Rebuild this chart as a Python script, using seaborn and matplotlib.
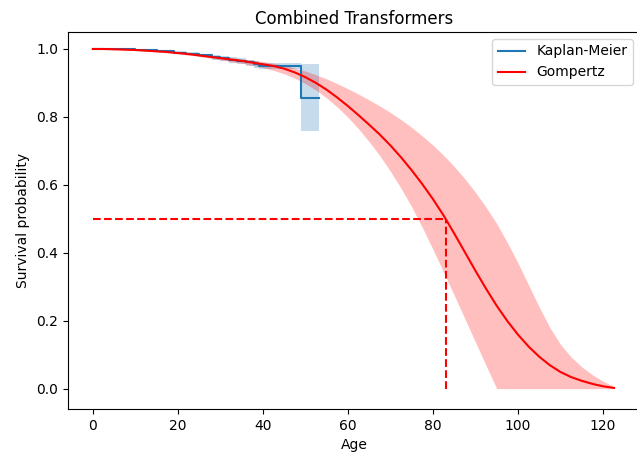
import matplotlib
matplotlib.use("Agg")
import matplotlib.pyplot as plt
import seaborn as sns
import pandas as pd

# Kaplan-Meier estimate (step function) and its confidence band
km_age = [0, 10, 15, 19, 22, 25, 28, 30, 32, 34, 36, 38, 39, 49, 53.1]
km_surv = [1.0, 0.997, 0.993, 0.989, 0.986, 0.981, 0.976, 0.973, 0.969, 0.965,
           0.961, 0.956, 0.950, 0.856, 0.856]
km_low = [1.0, 0.995, 0.990, 0.985, 0.981, 0.975, 0.969, 0.965, 0.960, 0.955,
          0.950, 0.945, 0.942, 0.759, 0.759]
km_high = [1.0, 0.999, 0.996, 0.993, 0.990, 0.986, 0.982, 0.979, 0.976, 0.972,
           0.969, 0.965, 0.958, 0.955, 0.955]

# Gompertz fit and its confidence band, read every 2.5 years
gomp_age = [0, 2.5, 5, 7.5, 10, 12.5, 15, 17.5, 20, 22.5, 25, 27.5, 30, 32.5, 35, 37.5,
            40, 42.5, 45, 47.5, 50, 52.5, 55, 57.5, 60, 62.5, 65, 67.5, 70, 72.5, 75, 77.5,
            80, 82.5, 85, 87.5, 90, 92.5, 95, 97.5, 100, 102.5, 105, 107.5, 110, 112.5,
            115, 117.5, 120, 122.6]
gomp_surv = [1.000, 1.000, 0.999, 0.998, 0.997, 0.995, 0.993, 0.991, 0.988, 0.985,
             0.981, 0.977, 0.973, 0.969, 0.965, 0.960, 0.955, 0.950, 0.942, 0.931,
             0.917, 0.900, 0.880, 0.857, 0.832, 0.805, 0.777, 0.748, 0.716, 0.681,
             0.643, 0.602, 0.558, 0.510, 0.457, 0.402, 0.347, 0.294, 0.244, 0.199,
             0.159, 0.124, 0.094, 0.069, 0.049, 0.034, 0.023, 0.014, 0.007, 0.002]
gomp_low = [1.000, 1.000, 0.999, 0.998, 0.996, 0.994, 0.992, 0.989, 0.986, 0.982,
            0.978, 0.973, 0.968, 0.963, 0.958, 0.952, 0.945, 0.937, 0.927, 0.914,
            0.898, 0.879, 0.856, 0.829, 0.799, 0.765, 0.727, 0.686, 0.640, 0.590,
            0.535, 0.475, 0.410, 0.343, 0.275, 0.206, 0.137, 0.068, 0.000, 0.000,
            0.000, 0.000, 0.000, 0.000, 0.000, 0.000, 0.000, 0.000, 0.000, 0.000]
gomp_high = [1.000, 1.000, 0.999, 0.999, 0.998, 0.996, 0.994, 0.992, 0.990, 0.987,
             0.984, 0.981, 0.978, 0.975, 0.971, 0.967, 0.963, 0.958, 0.952, 0.944,
             0.935, 0.924, 0.912, 0.898, 0.883, 0.867, 0.850, 0.832, 0.813, 0.792,
             0.769, 0.744, 0.717, 0.687, 0.654, 0.618, 0.578, 0.534, 0.486, 0.430,
             0.370, 0.305, 0.240, 0.180, 0.130, 0.093, 0.064, 0.041, 0.022, 0.006]

median_age = 83.0

km = pd.DataFrame({"Age": km_age, "Survival": km_surv})
gomp = pd.DataFrame({"Age": gomp_age, "Survival": gomp_surv})

fig = plt.figure(figsize=(6.37, 4.59), dpi=100)
ax = fig.add_axes([0.1063, 0.1089, 0.8984, 0.8214])

ax.fill_between(km_age, km_low, km_high, step="post", color="#1f77b4", alpha=0.25, lw=0)
sns.lineplot(data=km, x="Age", y="Survival", ax=ax, color="#1f77b4",
             drawstyle="steps-post", label="Kaplan-Meier", lw=1.5)

ax.fill_between(gomp_age, gomp_low, gomp_high, color="red", alpha=0.25, lw=0)
sns.lineplot(data=gomp, x="Age", y="Survival", ax=ax, color="red",
             label="Gompertz", lw=1.5)

ax.plot([0, median_age], [0.5, 0.5], color="red", ls="--", lw=1.5)
ax.plot([median_age, median_age], [0, 0.5], color="red", ls="--", lw=1.5)

ax.set_xlim(-5.9, 128.7)
ax.set_ylim(-0.06, 1.05)
ax.set_xticks([0, 20, 40, 60, 80, 100, 120])
ax.set_yticks([0.0, 0.2, 0.4, 0.6, 0.8, 1.0])
ax.set_title("Combined Transformers")
ax.set_xlabel("Age")
ax.set_ylabel("Survival probability")
ax.legend(loc="upper right")

fig.savefig("out.png", dpi=100)
